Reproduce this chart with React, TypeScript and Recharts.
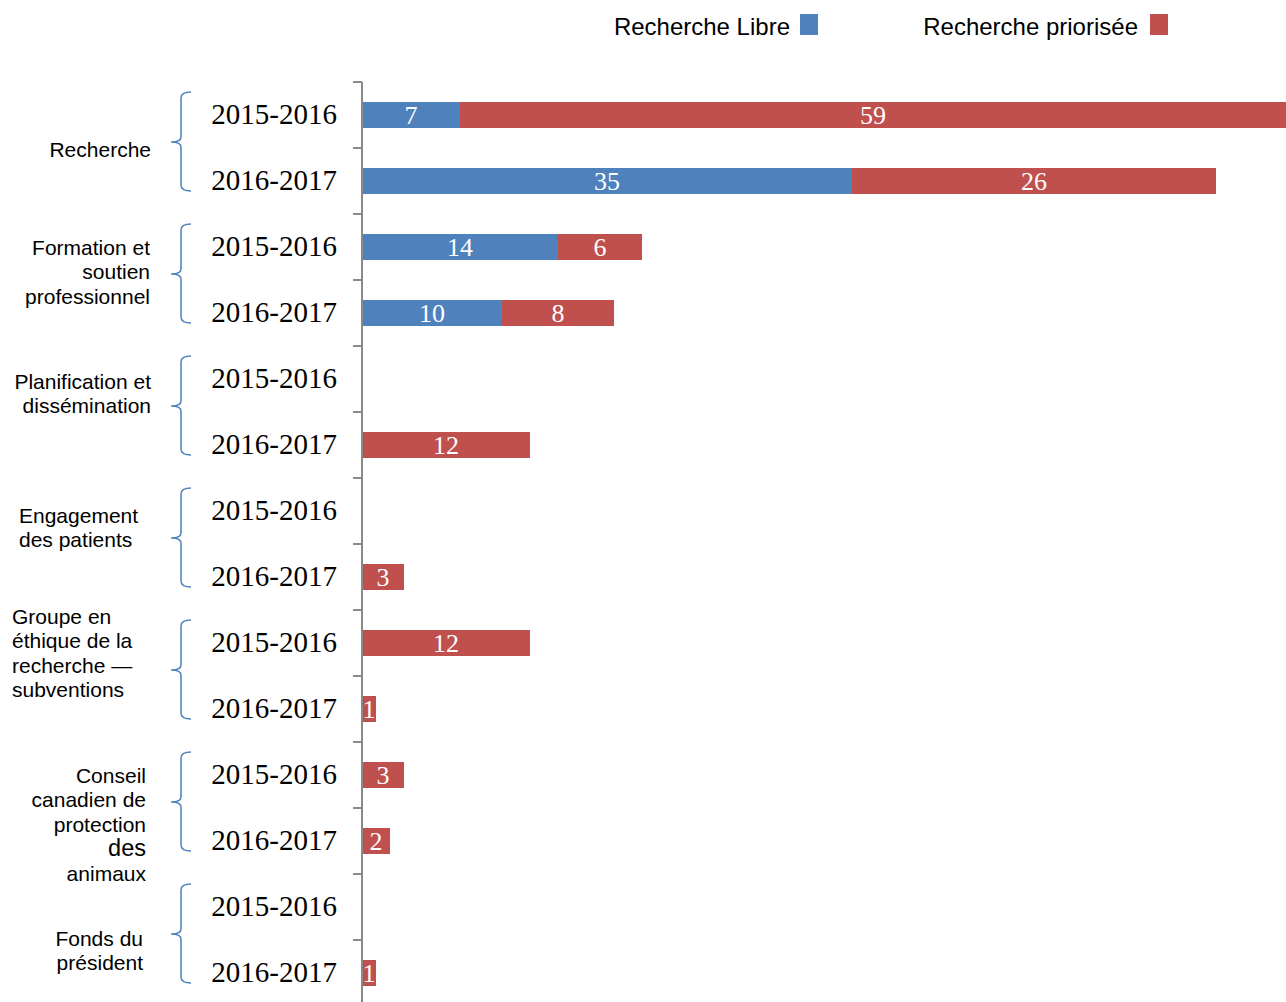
import React from 'react';
import { BarChart, Bar, XAxis, YAxis, LabelList } from 'recharts';

const categories = [
  'Recherche',
  'Formation et soutien professionnel',
  'Planification et dissémination',
  'Engagement des patients',
  'Groupe en éthique de la recherche — subventions',
  'Conseil canadien de protection des animaux',
  'Fonds du président',
];

// how each category name is broken over lines beside its brace
const categoryLines = [
  ['Recherche'],
  ['Formation et', 'soutien', 'professionnel'],
  ['Planification et', 'dissémination'],
  ['Engagement', 'des patients'],
  ['Groupe en', 'éthique de la', 'recherche —', 'subventions'],
  ['Conseil', 'canadien de', 'protection', 'des', 'animaux'],
  ['Fonds du', 'président'],
];

const years = ['2015-2016', '2016-2017'];

const seriesNames = ['Recherche Libre', 'Recherche priorisée'];

// one value per category and year, in the order of the rows
const libreValues = [7, 35, 14, 10, null, null, null, null, null, null, null, null, null, null];
const prioriseeValues = [59, 26, 6, 8, null, 12, null, 3, 12, 1, 3, 2, null, 1];

const xDomain = [0, 66];

const BLUE = '#4F81BD';
const RED = '#C0504D';
const AXIS = '#898989';

const W = 1286;
const H = 1010;
const TOP = 82;
const BOTTOM = 4;
const AXIS_W = 362;
const PLOT_H = H - TOP - BOTTOM;

// position of the group label, relative to the middle of its two rows
const labelLayout = [
  { anchor: 'end', x: 151, dy: 2 },
  { anchor: 'end', x: 150, dy: -32 },
  { anchor: 'end', x: 151, dy: -30 },
  { anchor: 'start', x: 19, dy: -28 },
  { anchor: 'start', x: 12, dy: -59 },
  { anchor: 'end', x: 146, dy: -32, big: 3 },
  { anchor: 'end', x: 143, dy: -1 },
];

const rows = categories.flatMap((cat, ci) =>
  years.map((year, yi) => {
    const i = ci * years.length + yi;
    return {
      id: `${cat}|${year}`,
      group: ci,
      yearIndex: yi,
      year,
      libre: libreValues[i],
      priorisee: prioriseeValues[i],
    };
  })
);

const LINE_H = 24.5;

const YearTick = (props: any) => {
  const { y, payload } = props;
  const row = rows.find((r) => r.id === payload.value);
  if (!row) return null;
  const step = PLOT_H / rows.length;
  const els: React.ReactNode[] = [];
  els.push(
    <text key="yr" x={337} y={y + 8.8} textAnchor="end" fontFamily="Liberation Serif" fontSize={29} fill="#000">
      {row.year}
    </text>
  );
  els.push(<line key="t0" x1={353} x2={362} y1={y - step / 2} y2={y - step / 2} stroke={AXIS} strokeWidth={2} />);
  if (row.id === rows[rows.length - 1].id) {
    els.push(<line key="t1" x1={353} x2={362} y1={y + step / 2} y2={y + step / 2} stroke={AXIS} strokeWidth={2} />);
  }
  if (row.yearIndex === 0) {
    const gc = y + step / 2;
    const top = gc - 56;
    const mid = gc - 6;
    const bot = gc + 43;
    const d = `M191,${top} Q181,${top} 181,${top + 6} L181,${mid - 5} Q181,${mid} 171,${mid} Q181,${mid} 181,${mid + 5} L181,${bot - 6} Q181,${bot} 191,${bot}`;
    els.push(<path key="br" d={d} fill="none" stroke={BLUE} strokeWidth={1.5} />);
    const lay = labelLayout[row.group];
    els.push(
      <text key="lb" textAnchor={lay.anchor} fontFamily="Liberation Sans" fontSize={21} fill="#000">
        {categoryLines[row.group].map((ln, li) => (
          <tspan key={li} x={lay.x} y={gc + lay.dy + li * LINE_H + 6.8} fontSize={lay.big === li ? 23.5 : 21}>
            {ln}
          </tspan>
        ))}
      </text>
    );
  }
  return <g>{els}</g>;
};

const ValueLabel = (props: any) => {
  const { x, y, width, height, value } = props;
  if (!value) return null;
  return (
    <text
      x={x + width / 2}
      y={y + height / 2 + 9}
      textAnchor="middle"
      fontFamily="Liberation Serif"
      fontSize={26}
      fill="#fff"
    >
      {value}
    </text>
  );
};

const legendItems = [
  { name: seriesNames[0], color: BLUE, textRight: 790, boxX: 800 },
  { name: seriesNames[1], color: RED, textRight: 1138, boxX: 1150 },
];

export default function App() {
  return (
    <div style={{ position: 'absolute', left: 0, top: 0, width: W, height: 1002, overflow: 'hidden', background: '#fff' }}>
      {legendItems.map((it) => (
        <React.Fragment key={it.name}>
          <div
            style={{
              position: 'absolute',
              right: W - it.textRight,
              top: 12,
              fontFamily: 'Liberation Sans',
              fontSize: 24,
              lineHeight: '30px',
              color: '#000',
              whiteSpace: 'nowrap',
            }}
          >
            {it.name}
          </div>
          <div style={{ position: 'absolute', left: it.boxX, top: 14, width: 18, height: 21, background: it.color }} />
        </React.Fragment>
      ))}
      <BarChart
        width={W}
        height={H}
        data={rows}
        layout="vertical"
        barCategoryGap={0}
        margin={{ top: TOP, right: 0, bottom: BOTTOM, left: 0 }}
      >
        <XAxis type="number" domain={xDomain} hide />
        <YAxis
          type="category"
          dataKey="id"
          width={AXIS_W}
          interval={0}
          tickLine={false}
          axisLine={{ stroke: AXIS, strokeWidth: 2 }}
          tick={<YearTick />}
        />
        <Bar dataKey="libre" stackId="s" fill={BLUE} barSize={26} isAnimationActive={false}>
          <LabelList dataKey="libre" content={<ValueLabel />} />
        </Bar>
        <Bar dataKey="priorisee" stackId="s" fill={RED} barSize={26} isAnimationActive={false}>
          <LabelList dataKey="priorisee" content={<ValueLabel />} />
        </Bar>
      </BarChart>
    </div>
  );
}
